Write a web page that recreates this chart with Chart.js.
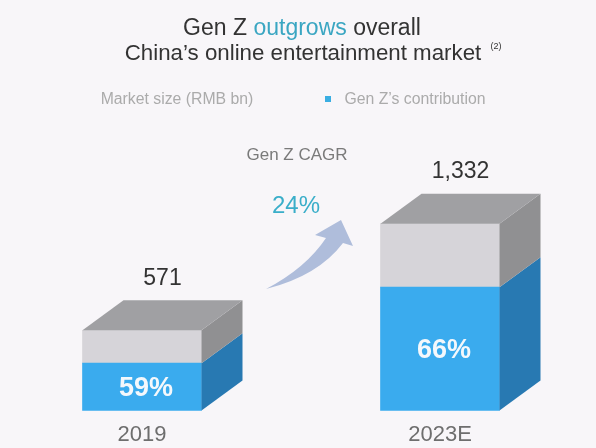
<!DOCTYPE html>
<html>
<head>
<meta charset="utf-8">
<script src="https://cdn.jsdelivr.net/npm/chart.js@4.4.1/dist/chart.umd.min.js"></script>
<style>
  html, body { margin: 0; padding: 0; background: #f8f6f9; }
  #wrap { position: relative; width: 596px; height: 448px; overflow: hidden; background: #f8f6f9;
          font-family: "Liberation Sans", Arial, sans-serif; }
  #c { position: absolute; left: 0; top: 0; }
  .t { position: absolute; white-space: nowrap; transform: translate(-50%, -50%); }
</style>
</head>
<body>
<div id="wrap">
  <canvas id="c" width="596" height="448"></canvas>
  <div class="t" style="left:302px; top:27px; font-size:23px; color:#333;">Gen Z <span style="color:#3aa6c2">outgrows</span> overall</div>
  <div class="t" style="left:303px; top:53px; font-size:22.3px; color:#333;">China’s online entertainment market</div>
  <div class="t" style="left:496px; top:46px; font-size:9px; color:#333;">(2)</div>
  <div class="t" style="left:177px; top:99px; font-size:15.8px; color:#ababab;">Market size (RMB bn)</div>
  <div style="position:absolute; left:325px; top:96px; width:6px; height:6px; background:#3aaee2;"></div>
  <div class="t" style="left:415px; top:99px; font-size:15.8px; color:#ababab;">Gen Z’s contribution</div>
  <div class="t" style="left:297px; top:155px; font-size:17px; color:#7a7a7a;">Gen Z CAGR</div>
  <div class="t" style="left:296px; top:205px; font-size:24px; color:#3aaec9;">24%</div>
</div>
<script>
// ---- data ----
const categories   = ['2019', '2023E'];
const totalLabels  = ['571', '1,332'];
const shareLabels  = ['59%', '66%'];
const genZValues   = [337, 879];   // Gen Z's contribution (RMB bn)
const otherValues  = [234, 453];   // rest of market (RMB bn)

const DX = 41, DY = -30;

const cube3d = {
  id: 'cube3d',
  beforeDatasetsDraw(chart) {
    // curved CAGR arrow (decoration)
    const ctx = chart.ctx;
    ctx.save();
    ctx.fillStyle = '#afbddb';
    ctx.beginPath();
    ctx.moveTo(266, 289);
    ctx.quadraticCurveTo(318, 276, 343, 243);
    ctx.lineTo(353, 246);
    ctx.lineTo(341, 220);
    ctx.lineTo(315, 235);
    ctx.lineTo(326, 238);
    ctx.quadraticCurveTo(306, 268, 266, 289);
    ctx.closePath();
    ctx.fill();
    ctx.restore();
  },
  afterDatasetsDraw(chart) {
    const ctx = chart.ctx;
    const m0 = chart.getDatasetMeta(0).data;
    const m1 = chart.getDatasetMeta(1).data;
    ctx.save();
    categories.forEach((c, i) => {
      const b = m0[i], g = m1[i];
      const left = b.x - b.width / 2, right = b.x + b.width / 2;
      const bBot = b.base, bTop = b.y, gTop = g.y;
      // blue side
      ctx.fillStyle = '#2879b2';
      ctx.beginPath();
      ctx.moveTo(right, bBot); ctx.lineTo(right + DX, bBot + DY);
      ctx.lineTo(right + DX, bTop + DY); ctx.lineTo(right, bTop); ctx.closePath(); ctx.fill();
      // grey side
      ctx.fillStyle = '#909092';
      ctx.beginPath();
      ctx.moveTo(right, bTop); ctx.lineTo(right + DX, bTop + DY);
      ctx.lineTo(right + DX, gTop + DY); ctx.lineTo(right, gTop); ctx.closePath(); ctx.fill();
      // top
      ctx.fillStyle = '#a0a0a3';
      ctx.beginPath();
      ctx.moveTo(left, gTop); ctx.lineTo(left + DX, gTop + DY);
      ctx.lineTo(right + DX, gTop + DY); ctx.lineTo(right, gTop); ctx.closePath(); ctx.fill();
      // total label
      ctx.fillStyle = '#333';
      ctx.font = '23px "Liberation Sans", Arial, sans-serif';
      ctx.textAlign = 'center';
      ctx.textBaseline = 'middle';
      ctx.fillText(totalLabels[i], b.x + DX / 2, gTop + DY - 22);
      // share label
      ctx.fillStyle = '#f4f8fc';
      ctx.font = 'bold 27px "Liberation Sans", Arial, sans-serif';
      ctx.fillText(shareLabels[i], b.x + 4, (bTop + bBot) / 2 + 2);
    });
    ctx.restore();
  }
};

new Chart(document.getElementById('c'), {
  type: 'bar',
  data: {
    labels: categories,
    datasets: [
      { label: "Gen Z's contribution", data: genZValues, backgroundColor: '#3aabee', clip: false, barThickness: 119 },
      { label: 'Other', data: otherValues, backgroundColor: '#d6d4d9', clip: false, barThickness: 119 }
    ]
  },
  options: {
    responsive: false,
    animation: false,
    devicePixelRatio: 1,
    layout: { padding: { left: 142, right: 156, top: 130, bottom: -12 } },
    plugins: { legend: { display: false }, tooltip: { enabled: false }, title: { display: false } },
    scales: {
      x: {
        stacked: true,
        offset: false,
        grid: { display: false, drawTicks: false },
        border: { display: false },
        ticks: { color: '#6e6e6e', font: { size: 22, family: '"Liberation Sans", Arial, sans-serif' }, padding: 11.6, maxRotation: 0, autoSkip: false }
      },
      y: { stacked: true, display: false, min: 0, max: 2000 }
    }
  },
  plugins: [cube3d]
});
</script>
</body>
</html>
